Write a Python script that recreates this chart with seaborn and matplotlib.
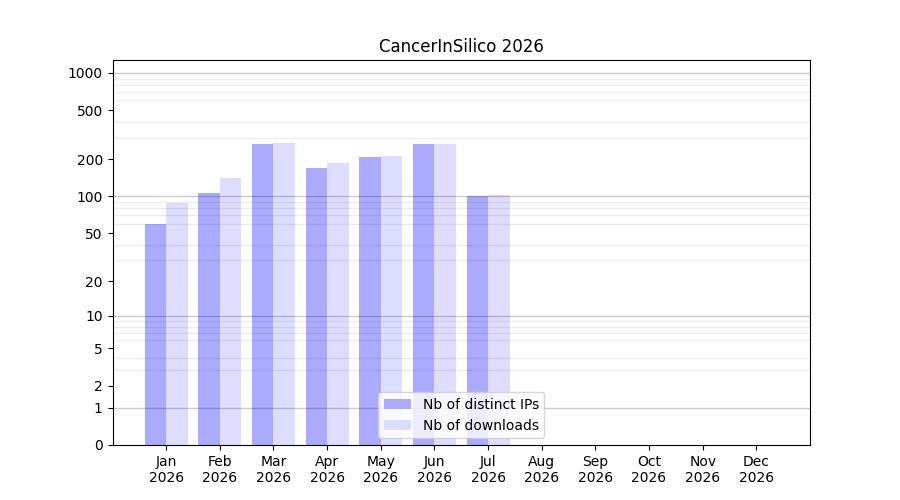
import numpy as np
import pandas as pd
import seaborn as sns
import matplotlib
matplotlib.use("Agg")
import matplotlib.pyplot as plt
from matplotlib.ticker import FixedLocator


months = ["Jan", "Feb", "Mar", "Apr", "May", "Jun",
          "Jul", "Aug", "Sep", "Oct", "Nov", "Dec"]
year = "2026"
distinct_ips = [60, 107, 268, 171, 207, 268, 100, 0, 0, 0, 0, 0]
downloads = [89, 140, 273, 188, 214, 268, 103, 0, 0, 0, 0, 0]
series_names = ["Nb of distinct IPs", "Nb of downloads"]
series_colors = ["#aaaaff", "#ddddff"]
ytick_values = [0, 1, 2, 5, 10, 20, 50, 100, 200, 500, 1000]
decades = [1, 10, 100, 1000]


def forward(x):
    return np.log10(1 + np.asarray(x, dtype=float))


def inverse(y):
    return 10 ** np.asarray(y, dtype=float) - 1


df = pd.DataFrame({
    "month": months * 2,
    "value": distinct_ips + downloads,
    "series": [series_names[0]] * len(months) + [series_names[1]] * len(months),
})

fig, ax = plt.subplots(figsize=(9, 5), dpi=100)

sns.barplot(data=df, x="month", y="value", hue="series", order=months,
            hue_order=series_names, palette=series_colors, width=0.8,
            saturation=1, ax=ax)

ax.set_yscale("function", functions=(forward, inverse))
ax.set_ylim(0, 1270)
ax.set_xlim(-1, 12)

# labelled ticks plus light lines at every 1..9 multiple
ax.yaxis.set_major_locator(FixedLocator(ytick_values))
ax.set_yticklabels([str(v) for v in ytick_values])
minor = [m * d for d in decades[:-1] for m in range(2, 10)]
ax.yaxis.set_minor_locator(FixedLocator(minor))
ax.tick_params(axis="y", which="minor", length=0)
ax.grid(False)
ax.grid(True, axis="y", which="minor", color="black", alpha=0.07, linewidth=1)
for d in decades:
    ax.axhline(d, color="black", alpha=0.2, linewidth=1, zorder=2.5)
ax.set_axisbelow(False)

ax.set_xticks(range(len(months)))
ax.set_xticklabels([f"{m}\n{year}" for m in months])
ax.set_xlabel("")
ax.set_ylabel("")
ax.set_title("CancerInSilico 2026")

ax.legend(loc="lower center", title=None)

plt.savefig("out.png")
